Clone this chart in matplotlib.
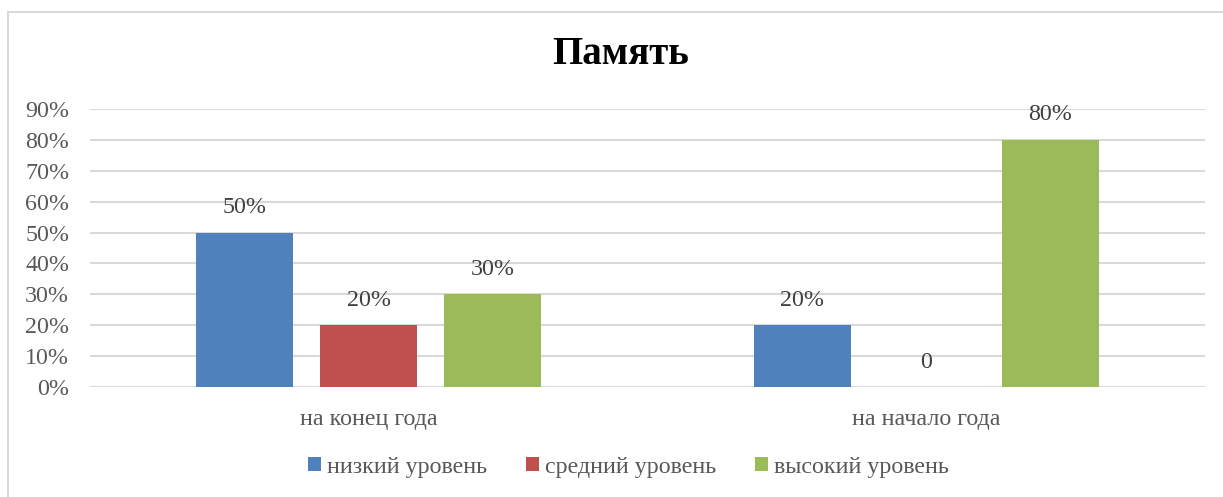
import matplotlib

matplotlib.use("Agg")
import matplotlib.pyplot as plt
import numpy as np
from matplotlib.patches import Rectangle
from matplotlib.ticker import FuncFormatter

plt.rcParams["font.family"] = ["Liberation Serif", "DejaVu Serif"]

categories = ["на конец года", "на начало года"]
series = ["низкий уровень", "средний уровень", "высокий уровень"]
values = [
    [0.50, 0.20],  # низкий
    [0.20, 0.00],  # средний
    [0.30, 0.80],  # высокий
]
labels = [
    ["50%", "20%"],
    ["20%", "0"],
    ["30%", "80%"],
]
colors = ["#4F81BD", "#C0504D", "#9BBB59"]
text_c = "#595959"
grid_c = "#D9D9D9"

W, H = 1223, 497
fig = plt.figure(figsize=(W / 100, H / 100), dpi=100)

# chart frame (runs off the right/bottom edge like the screenshot)
fig.patches.append(
    Rectangle((8 / W, -0.1), 1.2, 1 - 12 / H + 0.1, transform=fig.transFigure,
              fill=False, edgecolor=grid_c, lw=1.5)
)

ax = fig.add_axes([90 / W, 110 / H, 1115 / W, 278 / H])
x = np.arange(len(categories))
bw = 0.174
step = 0.2225
for i, (name, vals) in enumerate(zip(series, values)):
    pos = x + (i - 1) * step
    ax.bar(pos, vals, bw, color=colors[i], label=name, zorder=3)
    for p, v, lab in zip(pos, vals, labels[i]):
        ax.annotate(lab, xy=(p, v), xytext=(0, 18), textcoords="offset points",
                    ha="center", va="center", fontsize=17.3, color="#404040")

ax.set_xlim(-0.5, 1.5)
ax.set_ylim(0, 0.9)
ax.set_yticks(np.arange(0, 0.91, 0.1))
ax.yaxis.set_major_formatter(FuncFormatter(lambda v, _: f"{v * 100:.0f}%"))
ax.set_xticks(x)
ax.set_xticklabels(categories)
ax.tick_params(axis="both", length=0, labelsize=17.3, labelcolor=text_c)
ax.tick_params(axis="y", pad=15)
ax.tick_params(axis="x", pad=16)
ax.grid(axis="y", color=grid_c, lw=1.5, zorder=0)
for s in ax.spines.values():
    s.set_visible(False)

# frame centre sits a bit right of the image centre (frame is cut off)
fig.text(0.5 + 9 / W, 1 - 55 / H, "Память", ha="center", va="center",
         fontsize=28, fontweight="bold", color="black")

fig.legend(loc="center", bbox_to_anchor=(0.5 + 17 / W, 1 - 467 / H), ncol=3,
           frameon=False, fontsize=17.3, handlelength=0.55, handleheight=0.55,
           handletextpad=0.25, columnspacing=1.6, labelcolor=text_c)

fig.savefig("out.png", dpi=100)
